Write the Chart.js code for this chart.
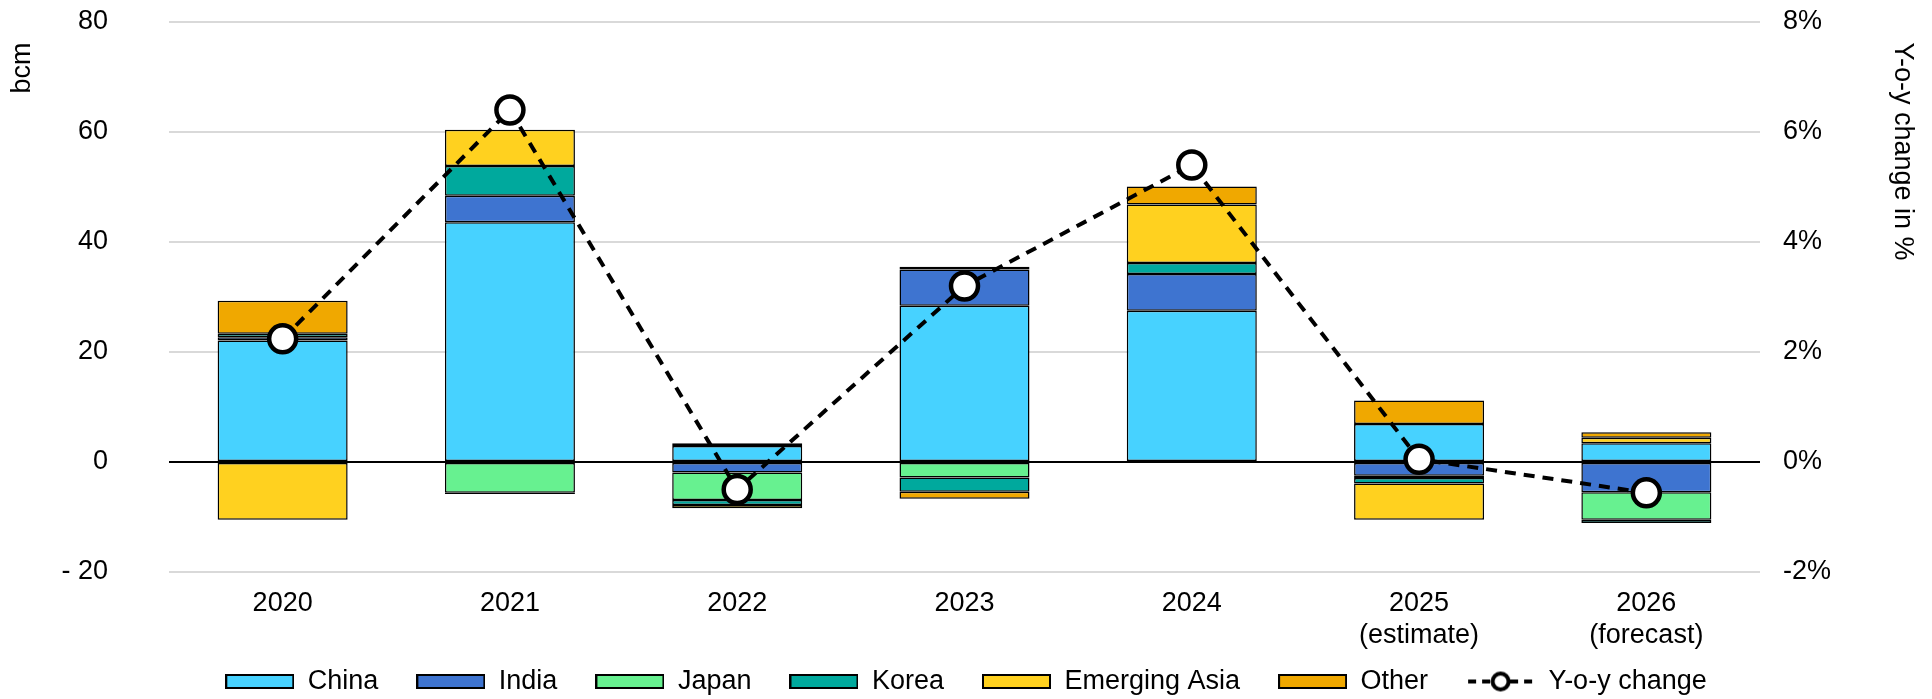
<!DOCTYPE html>
<html>
<head>
<meta charset="utf-8">
<script src="https://cdn.jsdelivr.net/npm/chart.js@4"></script>
<style>
html,body{margin:0;padding:0;background:#fff;}
#wrap{width:1932px;height:699px;position:relative;}
</style>
</head>
<body>
<div id="wrap"><canvas id="c" width="1932" height="699"></canvas></div>
<script>
const categories = ['2020','2021','2022','2023','2024',['2025','(estimate)'],['2026','(forecast)']];
const china    = [22.1, 43.6,  2.9, 28.4, 27.5,  6.9,  3.4];
const india    = [ 0.6,  4.8, -1.9,  6.6,  6.7, -2.5, -5.5];
const japan    = [-0.2, -5.6, -5.0, -2.8,  0.0, -0.4, -5.0];
const korea    = [ 0.6,  5.4, -0.9, -2.6,  2.0, -1.0, -0.6];
const emAsia   = [-10.3, 6.6, -0.6,  0.5, 10.6, -6.6,  1.0];
const other    = [ 6.0, -0.2,  0.5, -1.3,  3.3,  4.3,  1.0];
const yoyChange = [2.24, 6.4, -0.5, 3.2, 5.4, 0.05, -0.56];
const leftTicks = [-20, 0, 20, 40, 60, 80];
const rightTicks = [-2, 0, 2, 4, 6, 8];

const COLORS = {
  China:'#47D2FF', India:'#3E74D0', Japan:'#67F190', Korea:'#00A99D',
  'Emerging Asia':'#FFD11F', Other:'#F0A800'
};
const FONT = 'Liberation Sans, Arial, sans-serif';
const FS = 27;

function boxIcon(color){
  const c = document.createElement('canvas');
  c.width = 69; c.height = 15;
  const g = c.getContext('2d');
  g.fillStyle = color; g.fillRect(1,1,67,13);
  g.strokeStyle = '#000'; g.lineWidth = 2; g.strokeRect(1,1,67,13);
  return c;
}
function lineIcon(){
  const c = document.createElement('canvas');
  c.width = 69; c.height = 26;
  const g = c.getContext('2d');
  g.strokeStyle = '#000'; g.lineWidth = 4;
  g.setLineDash([8,6]);
  g.beginPath(); g.moveTo(2,13); g.lineTo(67,13); g.stroke();
  g.setLineDash([]);
  g.beginPath(); g.arc(34.5,13,8,0,Math.PI*2);
  g.fillStyle='#fff'; g.fill(); g.lineWidth=4; g.stroke();
  return c;
}

const barSeries = [
  ['China', china], ['India', india], ['Japan', japan],
  ['Korea', korea], ['Emerging Asia', emAsia], ['Other', other]
];
const datasets = barSeries.map(([name, data]) => ({
  type:'bar', label:name, data:data, backgroundColor:COLORS[name],
  borderColor:'#000', borderWidth:1.5, borderSkipped:false,
  stack:'s', yAxisID:'y', order:1,
  barPercentage:0.572, categoryPercentage:1
}));
datasets.push({
  type:'line', label:'Y-o-y change', data:yoyChange, yAxisID:'y1', order:0,
  borderColor:'#000', borderWidth:4, borderDash:[11,8], fill:false, tension:0,
  pointRadius:13.5, pointHoverRadius:13.5, pointBackgroundColor:'#fff',
  pointBorderColor:'#000', pointBorderWidth:4.5
});

new Chart(document.getElementById('c'), {
  data:{labels:categories, datasets:datasets},
  options:{
    responsive:false, animation:false,
    layout:{padding:{top:22, bottom:0, left:0, right:0}},
    plugins:{
      tooltip:{enabled:false},
      legend:{
        position:'bottom', maxHeight:69,
        labels:{
          usePointStyle:true, pointStyleWidth:69, padding:38,
          color:'#000', font:{family:FONT, size:FS},
          generateLabels:function(chart){
            const items = barSeries.map(([name],i)=>({
              text:name, pointStyle:boxIcon(COLORS[name]), datasetIndex:i,
              fillStyle:COLORS[name], strokeStyle:'#000', lineWidth:0, hidden:false
            }));
            items.push({text:'Y-o-y change', pointStyle:lineIcon(), datasetIndex:6,
              fillStyle:'#fff', strokeStyle:'#000', lineWidth:0, hidden:false});
            return items;
          }
        }
      }
    },
    scales:{
      x:{
        stacked:true,
        grid:{display:false, drawTicks:false},
        border:{display:false},
        ticks:{color:'#000', font:{family:FONT, size:FS}, padding:15, maxRotation:0, autoSkip:false},
        afterFit:function(s){
          s.height = 58;
          s._computeLabelArea = function(){ return undefined; };
        }
      },
      y:{
        position:'left', stacked:true, min:-20, max:80,
        afterBuildTicks:function(s){ s.ticks = leftTicks.map(v=>({value:v})); },
        grid:{drawTicks:true, tickLength:58, tickColor:'rgba(0,0,0,0)', lineWidth:2,
          color:function(ctx){ return ctx.tick && ctx.tick.value===0 ? '#000' : '#D9D9D9'; }},
        border:{display:false},
        ticks:{color:'#000', font:{family:FONT, size:FS}, padding:3,
          callback:function(v){ return v<0 ? '- ' + Math.abs(v) : String(v); }},
        title:{display:true, text:'bcm  \u2009', align:'end', color:'#000',
          font:{family:FONT, size:FS}, padding:{top:6, bottom:0}},
        afterFit:function(s){ s.width = 169; }
      },
      y1:{
        position:'right', min:-2, max:8,
        afterBuildTicks:function(s){ s.ticks = rightTicks.map(v=>({value:v})); },
        grid:{display:true, drawOnChartArea:false, drawTicks:true, tickLength:20,
          color:'rgba(0,0,0,0)', tickColor:'rgba(0,0,0,0)'},
        border:{display:false},
        ticks:{color:'#000', font:{family:FONT, size:FS}, padding:3,
          callback:function(v){ return v + '%'; }},
        title:{display:true, text:'  \u2009Y-o-y change in %', align:'end', color:'#000',
          font:{family:FONT, size:FS}, padding:{top:13, bottom:0}},
        afterFit:function(s){ s.width = 172; }
      }
    }
  }
});
</script>
</body>
</html>
